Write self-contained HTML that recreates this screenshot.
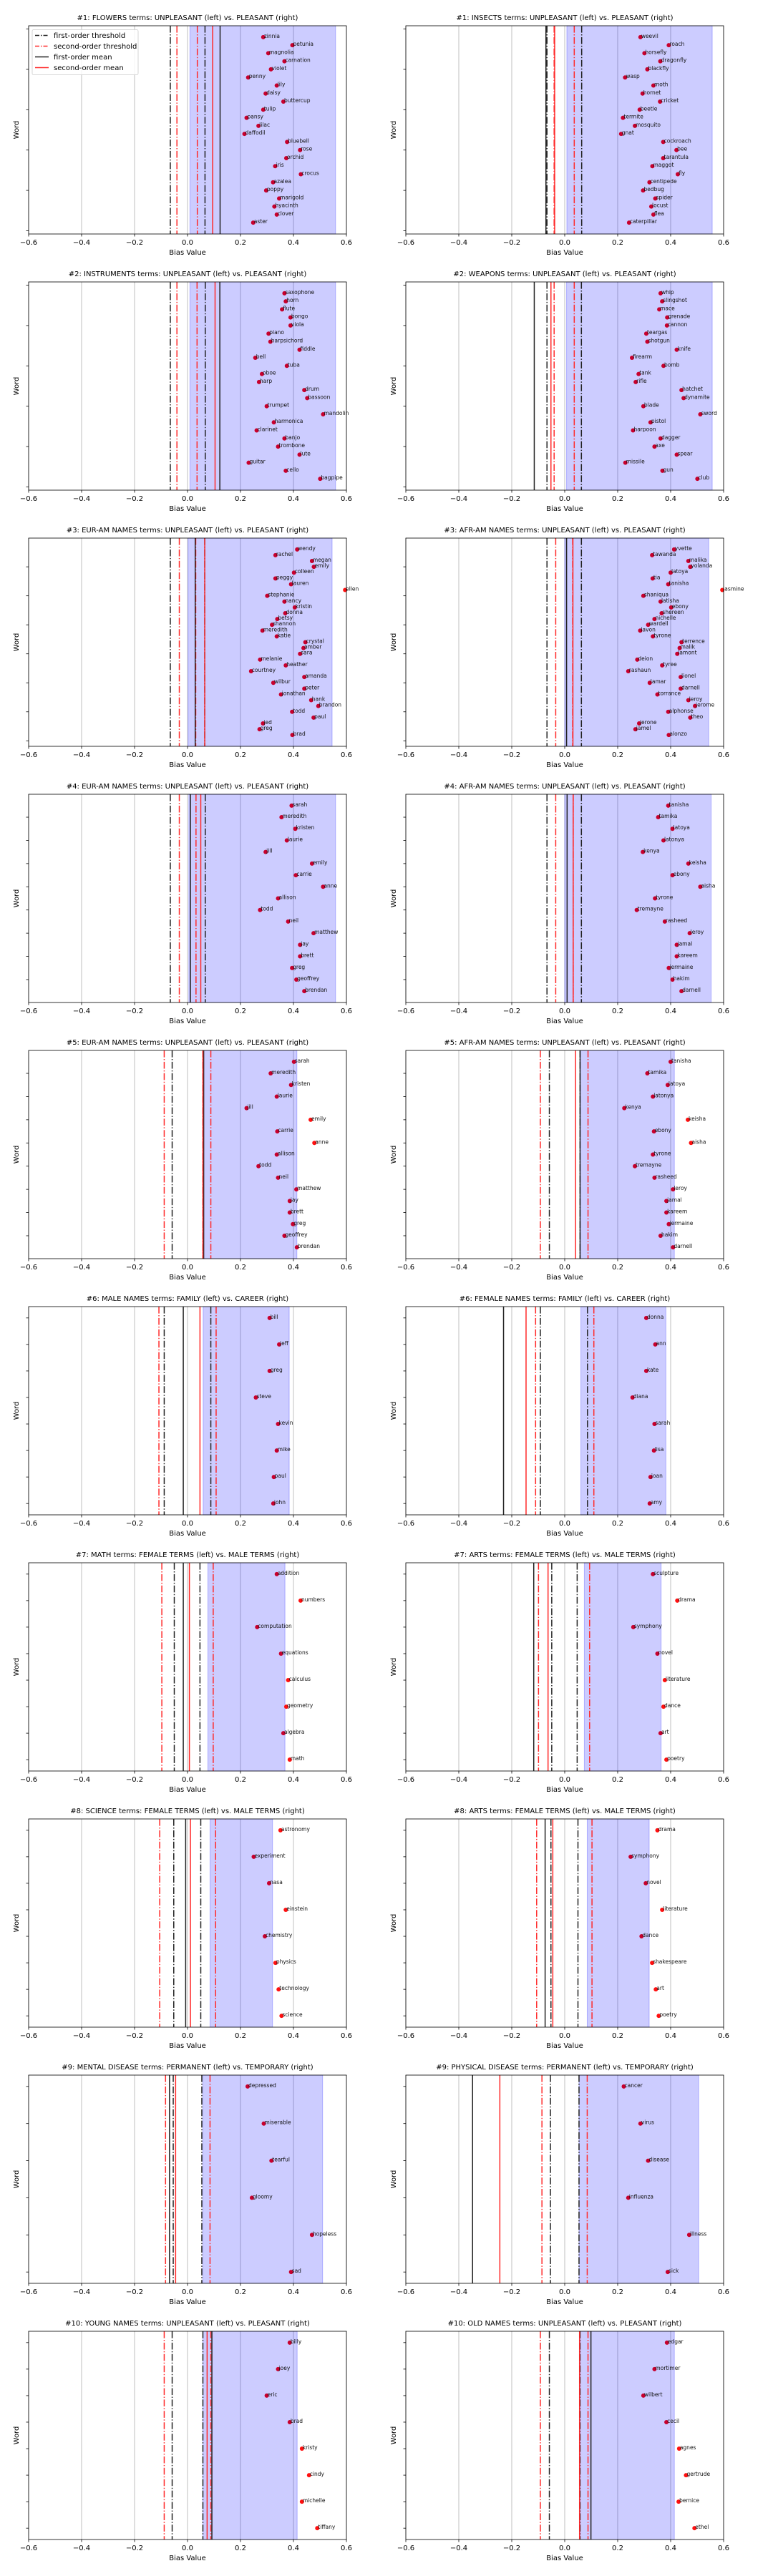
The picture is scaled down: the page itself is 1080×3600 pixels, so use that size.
<!DOCTYPE html>
<html><head><meta charset="utf-8"><style>
html,body{margin:0;padding:0;background:#fff;}
svg{display:block;font-family:"DejaVu Sans","Liberation Sans",sans-serif;}
</style></head><body>
<svg id="chart" width="1080" height="3600" viewBox="0 0 1080 3600" xmlns="http://www.w3.org/2000/svg"></svg>
<script>
const panelTitles = [
"#1: FLOWERS terms: UNPLEASANT (left) vs. PLEASANT (right)",
"#1: INSECTS terms: UNPLEASANT (left) vs. PLEASANT (right)",
"#2: INSTRUMENTS terms: UNPLEASANT (left) vs. PLEASANT (right)",
"#2: WEAPONS terms: UNPLEASANT (left) vs. PLEASANT (right)",
"#3: EUR-AM NAMES terms: UNPLEASANT (left) vs. PLEASANT (right)",
"#3: AFR-AM NAMES terms: UNPLEASANT (left) vs. PLEASANT (right)",
"#4: EUR-AM NAMES terms: UNPLEASANT (left) vs. PLEASANT (right)",
"#4: AFR-AM NAMES terms: UNPLEASANT (left) vs. PLEASANT (right)",
"#5: EUR-AM NAMES terms: UNPLEASANT (left) vs. PLEASANT (right)",
"#5: AFR-AM NAMES terms: UNPLEASANT (left) vs. PLEASANT (right)",
"#6: MALE NAMES terms: FAMILY (left) vs. CAREER (right)",
"#6: FEMALE NAMES terms: FAMILY (left) vs. CAREER (right)",
"#7: MATH terms: FEMALE TERMS (left) vs. MALE TERMS (right)",
"#7: ARTS terms: FEMALE TERMS (left) vs. MALE TERMS (right)",
"#8: SCIENCE terms: FEMALE TERMS (left) vs. MALE TERMS (right)",
"#8: ARTS terms: FEMALE TERMS (left) vs. MALE TERMS (right)",
"#9: MENTAL DISEASE terms: PERMANENT (left) vs. TEMPORARY (right)",
"#9: PHYSICAL DISEASE terms: PERMANENT (left) vs. TEMPORARY (right)",
"#10: YOUNG NAMES terms: UNPLEASANT (left) vs. PLEASANT (right)",
"#10: OLD NAMES terms: UNPLEASANT (left) vs. PLEASANT (right)"
];
const panelWords = [
["zinnia","petunia","magnolia","carnation","violet","penny","lily","daisy","buttercup","tulip","pansy","lilac","daffodil","bluebell","rose","orchid","iris","crocus","azalea","poppy","marigold","hyacinth","clover","aster"],
["weevil","roach","horsefly","dragonfly","blackfly","wasp","moth","hornet","cricket","beetle","termite","mosquito","gnat","cockroach","bee","tarantula","maggot","fly","centipede","bedbug","spider","locust","flea","caterpillar"],
["saxophone","horn","flute","bongo","viola","piano","harpsichord","fiddle","bell","tuba","oboe","harp","drum","bassoon","trumpet","mandolin","harmonica","clarinet","banjo","trombone","lute","guitar","cello","bagpipe"],
["whip","slingshot","mace","grenade","cannon","teargas","shotgun","knife","firearm","bomb","tank","rifle","hatchet","dynamite","blade","sword","pistol","harpoon","dagger","axe","spear","missile","gun","club"],
["wendy","rachel","megan","emily","colleen","peggy","lauren","ellen","stephanie","nancy","kristin","donna","betsy","shannon","meredith","katie","crystal","amber","sara","melanie","heather","courtney","amanda","wilbur","peter","jonathan","hank","brandon","todd","paul","jed","greg","brad"],
["yvette","tawanda","malika","yolanda","latoya","tia","tanisha","jasmine","shaniqua","latisha","ebony","shereen","nichelle","wardell","lavon","tyrone","terrence","malik","lamont","deion","tyree","rashaun","lionel","lamar","darnell","torrance","leroy","jerome","alphonse","theo","jerone","jamel","alonzo"],
["sarah","meredith","kristen","laurie","jill","emily","carrie","anne","allison","todd","neil","matthew","jay","brett","greg","geoffrey","brendan"],
["tanisha","tamika","latoya","latonya","kenya","keisha","ebony","aisha","tyrone","tremayne","rasheed","leroy","jamal","kareem","jermaine","hakim","darnell"],
["sarah","meredith","kristen","laurie","jill","emily","carrie","anne","allison","todd","neil","matthew","jay","brett","greg","geoffrey","brendan"],
["tanisha","tamika","latoya","latonya","kenya","keisha","ebony","aisha","tyrone","tremayne","rasheed","leroy","jamal","kareem","jermaine","hakim","darnell"],
["bill","jeff","greg","steve","kevin","mike","paul","john"],
["donna","ann","kate","diana","sarah","lisa","joan","amy"],
["addition","numbers","computation","equations","calculus","geometry","algebra","math"],
["sculpture","drama","symphony","novel","literature","dance","art","poetry"],
["astronomy","experiment","nasa","einstein","chemistry","physics","technology","science"],
["drama","symphony","novel","literature","dance","shakespeare","art","poetry"],
["depressed","miserable","tearful","gloomy","hopeless","sad"],
["cancer","virus","disease","influenza","illness","sick"],
["billy","joey","eric","brad","kristy","cindy","michelle","tiffany"],
["edgar","mortimer","wilbert","cecil","agnes","gertrude","bernice","ethel"]
];
const panelValues = [
[.286,.396,.305,.366,.315,.229,.337,.295,.362,.286,.223,.268,.215,.376,.425,.373,.331,.428,.323,.297,.346,.328,.337,.248],
[.286,.393,.301,.361,.312,.228,.335,.294,.36,.283,.22,.265,.213,.372,.422,.372,.331,.427,.32,.296,.342,.327,.335,.243],
[.366,.371,.357,.389,.389,.306,.313,.423,.256,.375,.281,.27,.441,.452,.299,.512,.326,.261,.366,.342,.423,.231,.371,.501],
[.362,.368,.357,.387,.386,.308,.312,.423,.254,.373,.279,.268,.441,.449,.297,.512,.324,.258,.362,.339,.423,.229,.369,.501],
[.414,.332,.47,.477,.402,.332,.391,.595,.301,.366,.405,.369,.339,.319,.283,.337,.445,.438,.425,.274,.371,.24,.441,.324,.441,.353,.467,.494,.395,.476,.285,.272,.396],
[.413,.33,.467,.474,.4,.332,.391,.595,.297,.362,.402,.366,.339,.315,.285,.333,.441,.434,.425,.274,.368,.24,.438,.321,.438,.35,.467,.492,.391,.474,.281,.267,.393],
[.393,.355,.407,.375,.295,.47,.409,.512,.342,.274,.38,.476,.425,.425,.395,.411,.441],
[.391,.353,.407,.373,.295,.467,.407,.512,.341,.272,.378,.472,.423,.423,.393,.407,.441],
[.402,.314,.391,.337,.223,.465,.339,.479,.337,.268,.342,.411,.386,.386,.398,.366,.413],
[.4,.312,.389,.333,.225,.465,.337,.477,.333,.265,.339,.409,.384,.384,.393,.362,.409],
[.31,.346,.31,.258,.342,.337,.326,.324],
[.308,.342,.308,.256,.339,.337,.324,.321],
[.337,.427,.263,.353,.38,.373,.362,.386],
[.333,.425,.259,.35,.378,.373,.362,.384],
[.351,.25,.308,.371,.292,.332,.344,.355],
[.35,.249,.306,.368,.29,.33,.344,.355],
[.227,.288,.317,.243,.47,.391],
[.223,.286,.315,.24,.47,.389],
[.386,.342,.299,.386,.432,.459,.432,.49],
[.386,.339,.297,.384,.432,.458,.43,.49]
];
const firstThreshLo = [-.065,-.067,-.065,-.067,-.065,-.067,-.065,-.067,-.058,-.058,-.088,-.092,-.05,-.049,-.052,-.052,-.054,-.054,-.058,-.058];
const firstThreshHi = [.066,.064,.067,.063,.065,.063,.067,.063,.058,.058,.088,.086,.047,.047,.05,.05,.054,.054,.058,.058];
const secondThreshLo = [-.04,-.04,-.04,-.04,-.031,-.034,-.031,-.034,-.088,-.092,-.108,-.11,-.097,-.099,-.105,-.106,-.083,-.086,-.088,-.092];
const secondThreshHi = [.037,.036,.036,.036,.031,.03,.032,.032,.088,.088,.108,.11,.097,.094,.106,.103,.085,.085,.088,.088];
const firstMean = [.123,-.071,.122,-.115,.029,.007,.011,.009,.061,.058,-.016,-.231,-.016,-.117,-.007,-.074,-.068,-.348,.092,.099];
const secondMean = [.095,-.038,.104,-.052,.065,.031,.05,.032,.058,.041,.047,-.146,.007,-.063,.011,-.045,-.045,-.245,.074,.056];
const shadeLo = [.009,.008,.009,.007,.002,0,.005,0,.061,.058,.059,.061,.077,.074,.085,.085,.058,.054,.058,.058];
const shadeHi = [.559,.557,.559,.557,.546,.544,.559,.553,.413,.414,.384,.382,.368,.364,.321,.319,.51,.506,.414,.414];
const xTickValues = [-0.6,-0.4,-0.2,0.0,0.2,0.4,0.6];
const xTickLabels = ["\u22120.6","\u22120.4","\u22120.2","0.0","0.2","0.4","0.6"];

const NS = "http://www.w3.org/2000/svg";
const svg = document.getElementById('chart');
function mk(tag, attrs, parent) {
  const e = document.createElementNS(NS, tag);
  for (const k in attrs) e.setAttribute(k, attrs[k]);
  (parent || svg).appendChild(e);
  return e;
}
const AX_W = 444, AX_H = 291, ROW_PITCH = 358, TOP0 = 36;
const colX = [40, 567];
const XMIN = -0.6, XMAX = 0.6;
const DD = "9.6,2.4,1.5,2.4";

panelTitles.forEach((title, p) => {
  const col = p % 2, row = Math.floor(p / 2);
  const x0 = colX[col], y0 = TOP0 + row * ROW_PITCH;
  const words = panelWords[p], vals = panelValues[p];
  const n = words.length;
  const m = 0.061 * (n - 1);
  const ymin = 1 - m, ymax = n + m;
  const sx = v => x0 + (v - XMIN) / (XMAX - XMIN) * AX_W;
  const sy = v => y0 + (ymax - v) / (ymax - ymin) * AX_H;

  const g = mk('g', {});
  
  

  const t = mk('text', {x: x0 + AX_W / 2, y: y0 - 8, 'text-anchor': 'middle', 'font-size': 10, fill: '#000'}, g);
  t.textContent = title;
  
  

  // grid
  xTickValues.forEach(v => {
    const gl = mk('line', {x1: sx(v), x2: sx(v), y1: y0, y2: y0 + AX_H, stroke: '#b0b0b0', 'stroke-width': 0.8}, g);
    
    
  });

  // shade
  const sh = mk('rect', {x: sx(shadeLo[p]), y: y0, width: sx(shadeHi[p]) - sx(shadeLo[p]), height: AX_H, fill: 'rgba(0,0,255,0.2)', stroke: 'rgba(0,0,255,0.25)', 'stroke-width': 1}, g);
  
  

  function vline(v, color, dashed, name) {
    const l = mk('line', {x1: sx(v), x2: sx(v), y1: y0, y2: y0 + AX_H, stroke: color, 'stroke-width': 1.5}, g);
    if (dashed) l.setAttribute('stroke-dasharray', DD);
    
    
  }
  vline(firstThreshLo[p], '#222', true, 'first-order-threshold-low');
  vline(firstThreshHi[p], '#222', true, 'first-order-threshold-high');
  vline(secondThreshLo[p], '#ff2a2a', true, 'second-order-threshold-low');
  vline(secondThreshHi[p], '#ff2a2a', true, 'second-order-threshold-high');
  vline(firstMean[p], '#222', false, 'first-order-mean');
  vline(secondMean[p], '#ff2a2a', false, 'second-order-mean');

  // points
  words.forEach((w, i) => {
    const v = vals[i];
    const yv = n - i;
    const cx = Math.min(sx(v), x0 + AX_W);
    const inside = v >= shadeLo[p] && v <= shadeHi[p];
    const c = mk('circle', {cx: cx, cy: sy(yv), r: 3, fill: inside ? '#c8002e' : '#ff1010'}, g);
    
    
    const lb = mk('text', {x: cx + 1, y: sy(yv) + 1, 'font-size': 7.5, fill: '#111'}, g);
    lb.textContent = w;
    
    
  });

  // y ticks
  const step = n > 20 ? 5 : (n > 10 ? 2 : 1);
  for (let v = Math.ceil(ymin / step) * step; v <= ymax; v += step) {
    const tk = mk('line', {x1: x0 - 3.5, x2: x0, y1: sy(v), y2: sy(v), stroke: '#000', 'stroke-width': 0.8}, g);
    
    
  }

  // frame
  const fr = mk('rect', {x: x0, y: y0, width: AX_W, height: AX_H, fill: 'none', stroke: '#000', 'stroke-width': 0.8}, g);
  
  

  // x ticks
  xTickValues.forEach((v, k) => {
    const tk = mk('line', {x1: sx(v), x2: sx(v), y1: y0 + AX_H, y2: y0 + AX_H + 3.5, stroke: '#000', 'stroke-width': 0.8}, g);
    
    
    const tl = mk('text', {x: sx(v), y: y0 + AX_H + 15, 'text-anchor': 'middle', 'font-size': 10, fill: '#000'}, g);
    tl.textContent = xTickLabels[k];
    
    
  });

  const xl = mk('text', {x: x0 + AX_W / 2, y: y0 + AX_H + 29, 'text-anchor': 'middle', 'font-size': 10, fill: '#000'}, g);
  xl.textContent = 'Bias Value';
  
  

  const ylx = col === 0 ? 26 : 553;
  const yl = mk('text', {x: ylx, y: y0 + AX_H / 2, 'text-anchor': 'middle', 'font-size': 10, fill: '#000', transform: 'rotate(-90 ' + ylx + ' ' + (y0 + AX_H / 2) + ')'}, g);
  yl.textContent = 'Word';
  
  

  if (p === 0) {
    const lg = mk('g', {}, g);
    
    
    mk('rect', {x: 45, y: 41.5, width: 148, height: 63, rx: 2, fill: 'rgba(255,255,255,0.85)', stroke: '#ccc', 'stroke-width': 0.8}, lg);
    const entries = [["first-order threshold", '#222', true], ["second-order threshold", '#ff2a2a', true], ["first-order mean", '#222', false], ["second-order mean", '#ff2a2a', false]];
    entries.forEach((en, k) => {
      const yy = 49.5 + k * 15;
      const ll = mk('line', {x1: 49, x2: 68, y1: yy, y2: yy, stroke: en[1], 'stroke-width': 1.5}, lg);
      if (en[2]) ll.setAttribute('stroke-dasharray', '6,2,1.5,2');
      
      
      const lt = mk('text', {x: 75, y: yy + 3.5, 'font-size': 10, fill: '#000'}, lg);
      lt.textContent = en[0];
      
      
    });
  }
});
</script>
</body></html>
